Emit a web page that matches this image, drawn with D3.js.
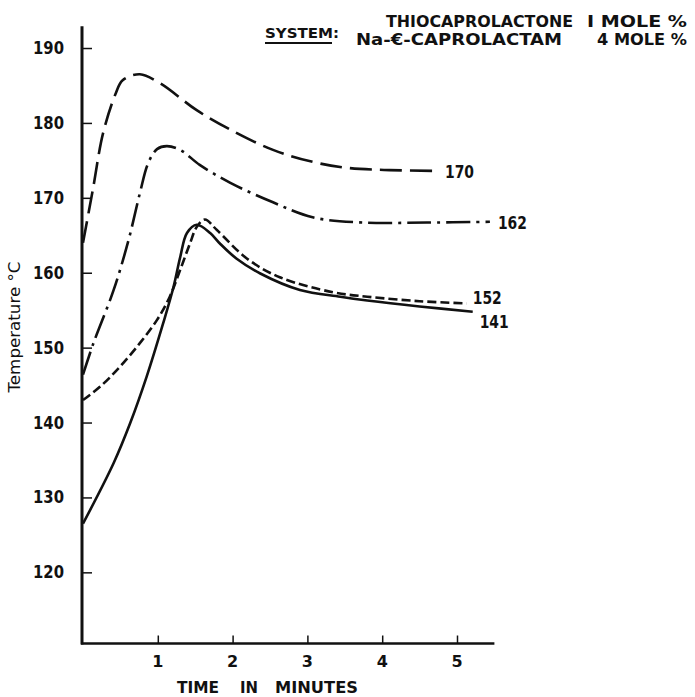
<!DOCTYPE html>
<html><head><meta charset="utf-8">
<script src="https://cdn.jsdelivr.net/npm/d3@7"></script>
<style>
html,body{margin:0;padding:0;background:#fff;}
svg{display:block;}
text{font-family:"DejaVu Sans","Liberation Sans",sans-serif;fill:#111;}
</style></head>
<body>
<svg id="chart" width="695" height="697"></svg>
<script>
// ---- data (time in minutes, temperature in °C) ----
const seriesLabels = ["170", "162", "152", "141"];
const curve170 = [[0,164.0],[0.13,171.0],[0.27,178.7],[0.44,184.0],[0.53,185.7],[0.76,186.5],[1.03,185.3],[1.52,181.7],[1.97,179.1],[2.54,176.4],[3.07,174.8],[3.53,174.0],[4.10,173.7],[4.72,173.6]];
const curve162 = [[0,146.4],[0.14,150.6],[0.41,157.7],[0.61,164.4],[0.76,170.6],[0.87,174.6],[0.99,176.5],[1.12,176.9],[1.30,176.4],[1.56,174.4],[1.97,172.0],[2.54,169.4],[3.07,167.4],[3.74,166.7],[4.6,166.7],[5.44,166.8]];
const curve152 = [[0,143.0],[0.23,144.8],[0.49,147.4],[0.76,150.6],[0.99,153.7],[1.16,156.8],[1.30,160.4],[1.43,163.9],[1.52,166.1],[1.63,167.1],[1.79,165.7],[2.19,161.9],[2.63,159.4],[3.34,157.4],[3.80,156.8],[4.50,156.2],[5.13,155.9]];
const curve141 = [[0,126.5],[0.41,134.6],[0.63,139.9],[0.85,146.1],[1.07,153.2],[1.21,158.1],[1.30,162.1],[1.39,165.3],[1.52,166.4],[1.70,165.3],[1.83,163.9],[2.05,161.9],[2.37,159.9],[2.90,157.7],[3.44,156.8],[3.80,156.3],[4.50,155.5],[5.21,154.8]];
const xTicks = [1, 2, 3, 4, 5];
const yTicks = [120, 130, 140, 150, 160, 170, 180, 190];
const titleLine1 = ["THIOCAPROLACTONE", "I MOLE %"];
const titleLine2 = ["Na-\u20AC-CAPROLACTAM", "4 MOLE %"];
const xTitleWords = ["TIME", "IN", "MINUTES"];

const allSeries = [curve170, curve162, curve152, curve141];
const dashes = ["22,8", "24,6,3,6", "9,4", null];
const labelOffsets = [[9, 7], [8, 7], [6, 1], [7, 16]];

const svg = d3.select("#chart");
const x = d3.scaleLinear().domain([0, 5.5]).range([83, 494.4]);
const y = d3.scaleLinear().domain([110.5, 192.9]).range([643.5, 26.3]);

// axes lines
svg.append("line").attr("x1", 82).attr("x2", 82).attr("y1", y(192.9)).attr("y2", y(110.5)+1)
  .attr("stroke", "#111").attr("stroke-width", 3);
svg.append("line").attr("x1", 81).attr("x2", x(5.5)).attr("y1", y(110.5)).attr("y2", y(110.5))
  .attr("stroke", "#111").attr("stroke-width", 2.5);

// y ticks
const yAxis = d3.axisRight(y).tickValues(yTicks).tickSize(10).tickFormat("");
const gy = svg.append("g").attr("transform", "translate(82,0)").call(yAxis);
gy.select(".domain").remove();
gy.selectAll("line").attr("stroke", "#111").attr("stroke-width", 1.5);
svg.selectAll(".ylab").data(yTicks).enter().append("text")
  .attr("x", 64).attr("y", d => y(d) + 6).attr("text-anchor", "end")
  .attr("font-size", 17).attr("font-weight", "bold")
  .attr("textLength", 31).attr("lengthAdjust", "spacingAndGlyphs").text(d => d);

// x ticks
const xAxis = d3.axisTop(x).tickValues(xTicks).tickSize(8).tickFormat("");
const gx = svg.append("g").attr("transform", `translate(0,${y(110.5)})`).call(xAxis);
gx.select(".domain").remove();
gx.selectAll("line").attr("stroke", "#111").attr("stroke-width", 1.5);
svg.selectAll(".xlab").data(xTicks).enter().append("text")
  .attr("x", d => x(d)).attr("y", 667).attr("text-anchor", "middle")
  .attr("font-size", 16).attr("font-weight", "bold").text(d => d);

// axis titles
const xTitlePos = [[177, 42], [240, 18], [275, 83]];
xTitleWords.forEach((w, i) => {
  svg.append("text").attr("x", xTitlePos[i][0]).attr("y", 693).attr("font-size", 16).attr("font-weight", "bold")
    .attr("textLength", xTitlePos[i][1]).attr("lengthAdjust", "spacingAndGlyphs").text(w);
});
svg.append("text").attr("transform", "translate(20,327) rotate(-90)").attr("text-anchor", "middle")
  .attr("font-size", 15).attr("font-weight", 500).attr("textLength", 131).attr("lengthAdjust", "spacingAndGlyphs").text("Temperature \u00B0C");

// curves
const line = d3.line().x(d => x(d[0])).y(d => y(d[1])).curve(d3.curveCatmullRom.alpha(0.5));
allSeries.forEach((s, i) => {
  const p = svg.append("path").attr("d", line(s)).attr("fill", "none")
    .attr("stroke", "#111").attr("stroke-width", 2.6);
  if (dashes[i]) p.attr("stroke-dasharray", dashes[i]);
  const last = s[s.length - 1];
  svg.append("text").attr("x", x(last[0]) + labelOffsets[i][0]).attr("y", y(last[1]) + labelOffsets[i][1])
    .attr("font-size", 17).attr("font-weight", "bold")
    .attr("textLength", 29).attr("lengthAdjust", "spacingAndGlyphs").text(seriesLabels[i]);
});

// title
svg.append("text").attr("x", 265).attr("y", 38).attr("font-size", 14).attr("font-weight", "bold")
  .attr("textLength", 74).attr("lengthAdjust", "spacingAndGlyphs").text("SYSTEM:");
svg.append("line").attr("x1", 265).attr("x2", 332).attr("y1", 43).attr("y2", 43).attr("stroke", "#111").attr("stroke-width", 1.8);
svg.append("text").attr("x", 386).attr("y", 27).attr("font-size", 15).attr("font-weight", "bold")
  .attr("textLength", 187).attr("lengthAdjust", "spacingAndGlyphs").text(titleLine1[0]);
svg.append("text").attr("x", 587).attr("y", 27).attr("font-size", 15).attr("font-weight", "bold")
  .attr("textLength", 100).attr("lengthAdjust", "spacingAndGlyphs").text(titleLine1[1]);
svg.append("text").attr("x", 356).attr("y", 45).attr("font-size", 15).attr("font-weight", "bold")
  .attr("textLength", 206).attr("lengthAdjust", "spacingAndGlyphs").text(titleLine2[0]);
svg.append("text").attr("x", 597).attr("y", 45).attr("font-size", 15).attr("font-weight", "bold")
  .attr("textLength", 90).attr("lengthAdjust", "spacingAndGlyphs").text(titleLine2[1]);
</script>
</body></html>
